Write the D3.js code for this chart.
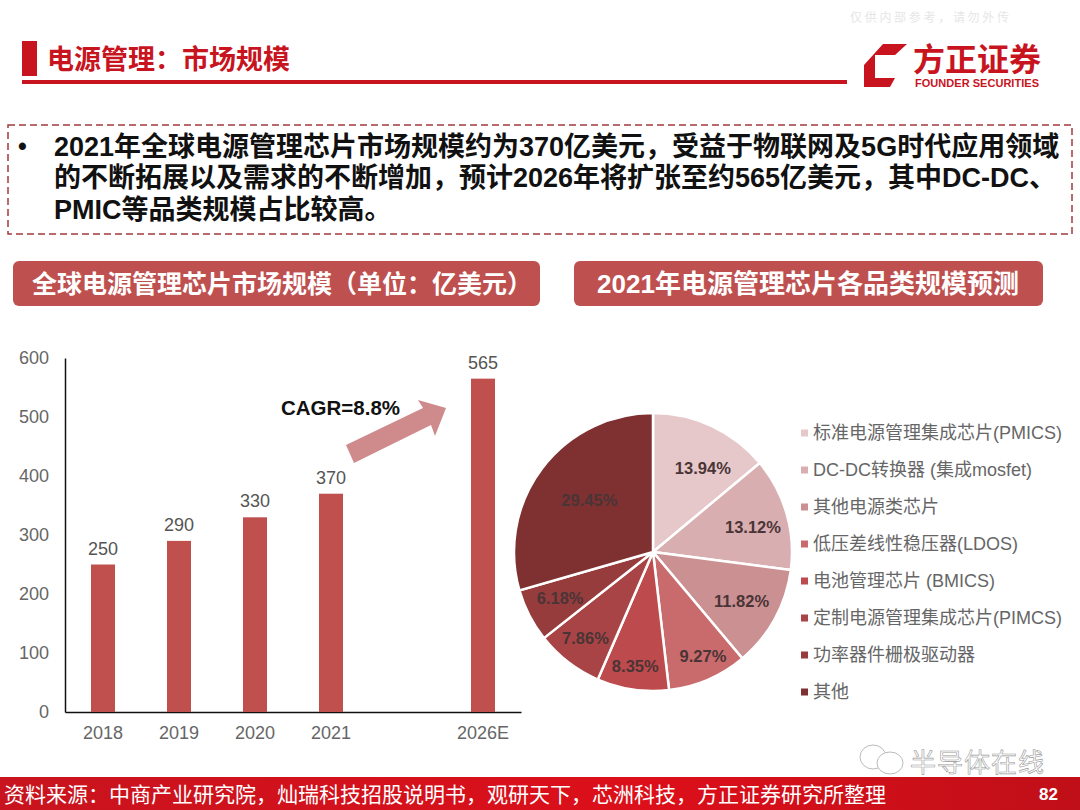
<!DOCTYPE html>
<html>
<head>
<meta charset="utf-8">
<script src="https://cdn.jsdelivr.net/npm/d3@7"></script>
<style>
html, body { margin: 0; padding: 0; background: #fff; }
svg { display: block; }
text { font-family: "Liberation Sans", "Noto Sans CJK SC", sans-serif; }
</style>
</head>
<body>
<div id="chart"></div>
<script>
var years = ["2018", "2019", "2020", "2021", "", "2026E"];
var marketSize = [250, 290, 330, 370, null, 565];
var yTicks = [0, 100, 200, 300, 400, 500, 600];

var pieNames = ["标准电源管理集成芯片(PMICS)", "DC-DC转换器 (集成mosfet)", "其他电源类芯片", "低压差线性稳压器(LDOS)",
  "电池管理芯片 (BMICS)", "定制电源管理集成芯片(PIMCS)", "功率器件栅极驱动器", "其他"];
var pieShares = [13.94, 13.12, 11.82, 9.27, 8.35, 7.86, 6.18, 29.45];
var pieColors = ["#e6c8ca", "#d9aeb0", "#cb9092", "#c96a6c", "#bd4a4c", "#a94446", "#963c3d", "#7f3132"];

var introLines = ["2021年全球电源管理芯片市场规模约为370亿美元，受益于物联网及5G时代应用领域",
  "的不断拓展以及需求的不断增加，预计2026年将扩张至约565亿美元，其中DC-DC、",
  "PMIC等品类规模占比较高。"];

// labels in the original are hand placed, so nudge them off the centroid
var labelNudge = [[7, 8], [3, 3], [0, 1], [10, 11], [-3, 14], [-6, 6], [-3, 0], [17, 9]];

var svg = d3.select("#chart").append("svg")
  .attr("width", 1080)
  .attr("height", 810);

var defs = svg.append("defs");
var grad = defs.append("linearGradient").attr("id", "footGrad");
grad.append("stop").attr("offset", "0%").attr("stop-color", "#c8141e");
grad.append("stop").attr("offset", "60%").attr("stop-color", "#dc0f1a");
grad.append("stop").attr("offset", "100%").attr("stop-color", "#c00f18");

// header
svg.append("rect").attr("x", 22).attr("y", 41).attr("width", 15).attr("height", 35).attr("fill", "#c8141e");
svg.append("text").attr("x", 47).attr("y", 69).attr("font-size", 27).attr("font-weight", "bold")
  .attr("fill", "#c8141e").text("电源管理：市场规模");
svg.append("rect").attr("x", 22).attr("y", 80).attr("width", 825).attr("height", 4).attr("fill", "#c8141e");
svg.append("text").attr("x", 850).attr("y", 22).attr("font-size", 12).attr("fill", "#e6e6e6")
  .attr("letter-spacing", 2.7).text("仅供内部参考，请勿外传");

// logo
svg.append("path").attr("d", "M864,65 L883,44 L907,44 L895,55 L875,55 L875,78 L895,78 L890,87 L864,87 Z").attr("fill", "#c8141e");
svg.append("text").attr("x", 913).attr("y", 71).attr("font-size", 32).attr("font-weight", "bold")
  .attr("fill", "#c8141e").text("方正证券");
svg.append("text").attr("x", 915).attr("y", 87).attr("font-size", 11).attr("font-weight", "bold")
  .attr("fill", "#c8141e").attr("textLength", 124).text("FOUNDER SECURITIES");

// intro box
svg.append("rect").attr("x", 8).attr("y", 125).attr("width", 1064).attr("height", 109)
  .attr("fill", "none").attr("stroke", "#a33a3c").attr("stroke-width", 1.5).attr("stroke-dasharray", "7 4");
svg.append("text").attr("x", 18).attr("y", 155).attr("font-size", 25).attr("font-weight", "bold").attr("fill", "#111").text("•");
introLines.forEach(function(line, i) {
  svg.append("text").attr("x", 54).attr("y", 155.5 + i * 31.5).attr("font-size", 27).attr("font-weight", "bold")
    .attr("fill", "#111").text(line);
});

// section titles
svg.append("rect").attr("x", 13).attr("y", 261).attr("width", 527).attr("height", 45).attr("rx", 6).attr("fill", "#bf5050");
svg.append("text").attr("x", 282).attr("y", 293).attr("text-anchor", "middle").attr("font-size", 25).attr("font-weight", "bold")
  .attr("fill", "#fff").text("全球电源管理芯片市场规模（单位：亿美元）");
svg.append("rect").attr("x", 574).attr("y", 261).attr("width", 469).attr("height", 45).attr("rx", 6).attr("fill", "#bf5050");
svg.append("text").attr("x", 808).attr("y", 293).attr("text-anchor", "middle").attr("font-size", 26).attr("font-weight", "bold")
  .attr("fill", "#fff").text("2021年电源管理芯片各品类规模预测");

// bar chart
var xScale = d3.scaleBand().domain(d3.range(years.length)).range([65, 521]);
var yScale = d3.scaleLinear().domain([0, 600]).range([712, 358]);

var yAxis = d3.axisLeft(yScale).tickValues(yTicks).tickSize(0).tickPadding(16);
var xAxis = d3.axisBottom(xScale).tickFormat(function(i) { return years[i]; }).tickSize(0).tickPadding(14);

var yG = svg.append("g").attr("transform", "translate(65,0)").call(yAxis);
var xG = svg.append("g").attr("transform", "translate(0,712)").call(xAxis);
[yG, xG].forEach(function(g) {
  g.selectAll("text").attr("font-size", 18).attr("fill", "#666").style("font-family", '"Liberation Sans"');
  g.select(".domain").attr("stroke", "#111").attr("stroke-width", 1.5);
});

svg.append("g").selectAll("rect")
  .data(marketSize)
  .enter()
  .filter(function(d) { return d !== null; })
  .append("rect")
  .attr("x", function(d) { return xScale(marketSize.indexOf(d)) + xScale.bandwidth() / 2 - 12; })
  .attr("y", function(d) { return yScale(d); })
  .attr("width", 24)
  .attr("height", function(d) { return yScale(0) - yScale(d); })
  .attr("fill", "#c0504d");

svg.append("g").selectAll("text")
  .data(marketSize)
  .enter()
  .filter(function(d) { return d !== null; })
  .append("text")
  .attr("x", function(d) { return xScale(marketSize.indexOf(d)) + xScale.bandwidth() / 2; })
  .attr("y", function(d) { return yScale(d) - 10; })
  .attr("text-anchor", "middle")
  .attr("font-size", 18)
  .attr("fill", "#555")
  .text(function(d) { return d; });

// CAGR arrow
svg.append("path").attr("d", "M346,445 L423,408 L418,400 L446,408 L435,436 L431,425 L354,463 Z").attr("fill", "#cf8a8c");
svg.append("text").attr("x", 281).attr("y", 415).attr("font-size", 20.5).attr("font-weight", "bold").attr("fill", "#111").text("CAGR=8.8%");

// pie
var pie = d3.pie().sort(null).value(function(d) { return d; });
var arc = d3.arc().innerRadius(0).outerRadius(139);
var labelArc = d3.arc().innerRadius(101).outerRadius(101);
var pieG = svg.append("g").attr("transform", "translate(653,552)");

pieG.selectAll("path")
  .data(pie(pieShares))
  .enter()
  .append("path")
  .attr("d", arc)
  .attr("fill", function(d, i) { return pieColors[i]; })
  .attr("stroke", "#fff")
  .attr("stroke-width", 2.5);

pieG.selectAll("text")
  .data(pie(pieShares))
  .enter()
  .append("text")
  .attr("transform", function(d, i) {
    var c = labelArc.centroid(d);
    return "translate(" + (c[0] + labelNudge[i][0]) + "," + (c[1] + labelNudge[i][1]) + ")";
  })
  .attr("text-anchor", "middle")
  .attr("dy", "0.35em")
  .attr("font-size", 16.5)
  .attr("font-weight", "bold")
  .attr("fill", "#4a3436")
  .text(function(d) { return d.data.toFixed(2) + "%"; });

// legend
var legendY = d3.scalePoint().domain(d3.range(pieNames.length)).range([433, 692]);
var legend = svg.append("g");
pieNames.forEach(function(name, i) {
  legend.append("rect").attr("x", 801).attr("y", legendY(i) - 3.5).attr("width", 7).attr("height", 7).attr("fill", pieColors[i]);
  legend.append("text").attr("x", 813).attr("y", legendY(i)).attr("dy", "0.36em").attr("font-size", 18)
    .attr("fill", "#666").text(name);
});

// watermark
svg.append("text").attr("x", 910).attr("y", 772).attr("font-size", 26).attr("fill", "#fff")
  .attr("stroke", "#999").attr("stroke-width", 0.6).attr("letter-spacing", 1).text("半导体在线");
var chat = svg.append("g").attr("fill", "#fff").attr("stroke", "#bbb");
chat.append("ellipse").attr("cx", 873).attr("cy", 757).attr("rx", 13).attr("ry", 12);
chat.append("ellipse").attr("cx", 890).attr("cy", 763).attr("rx", 13).attr("ry", 11);

// footer
svg.append("rect").attr("x", 0).attr("y", 777).attr("width", 1080).attr("height", 33).attr("fill", "url(#footGrad)");
svg.append("text").attr("x", 4).attr("y", 802).attr("font-size", 21).attr("fill", "#fff")
  .text("资料来源：中商产业研究院，灿瑞科技招股说明书，观研天下，芯洲科技，方正证券研究所整理");
svg.append("text").attr("x", 1039).attr("y", 800).attr("font-size", 17).attr("font-weight", "bold").attr("fill", "#fff").text("82");
</script>
</body>
</html>
